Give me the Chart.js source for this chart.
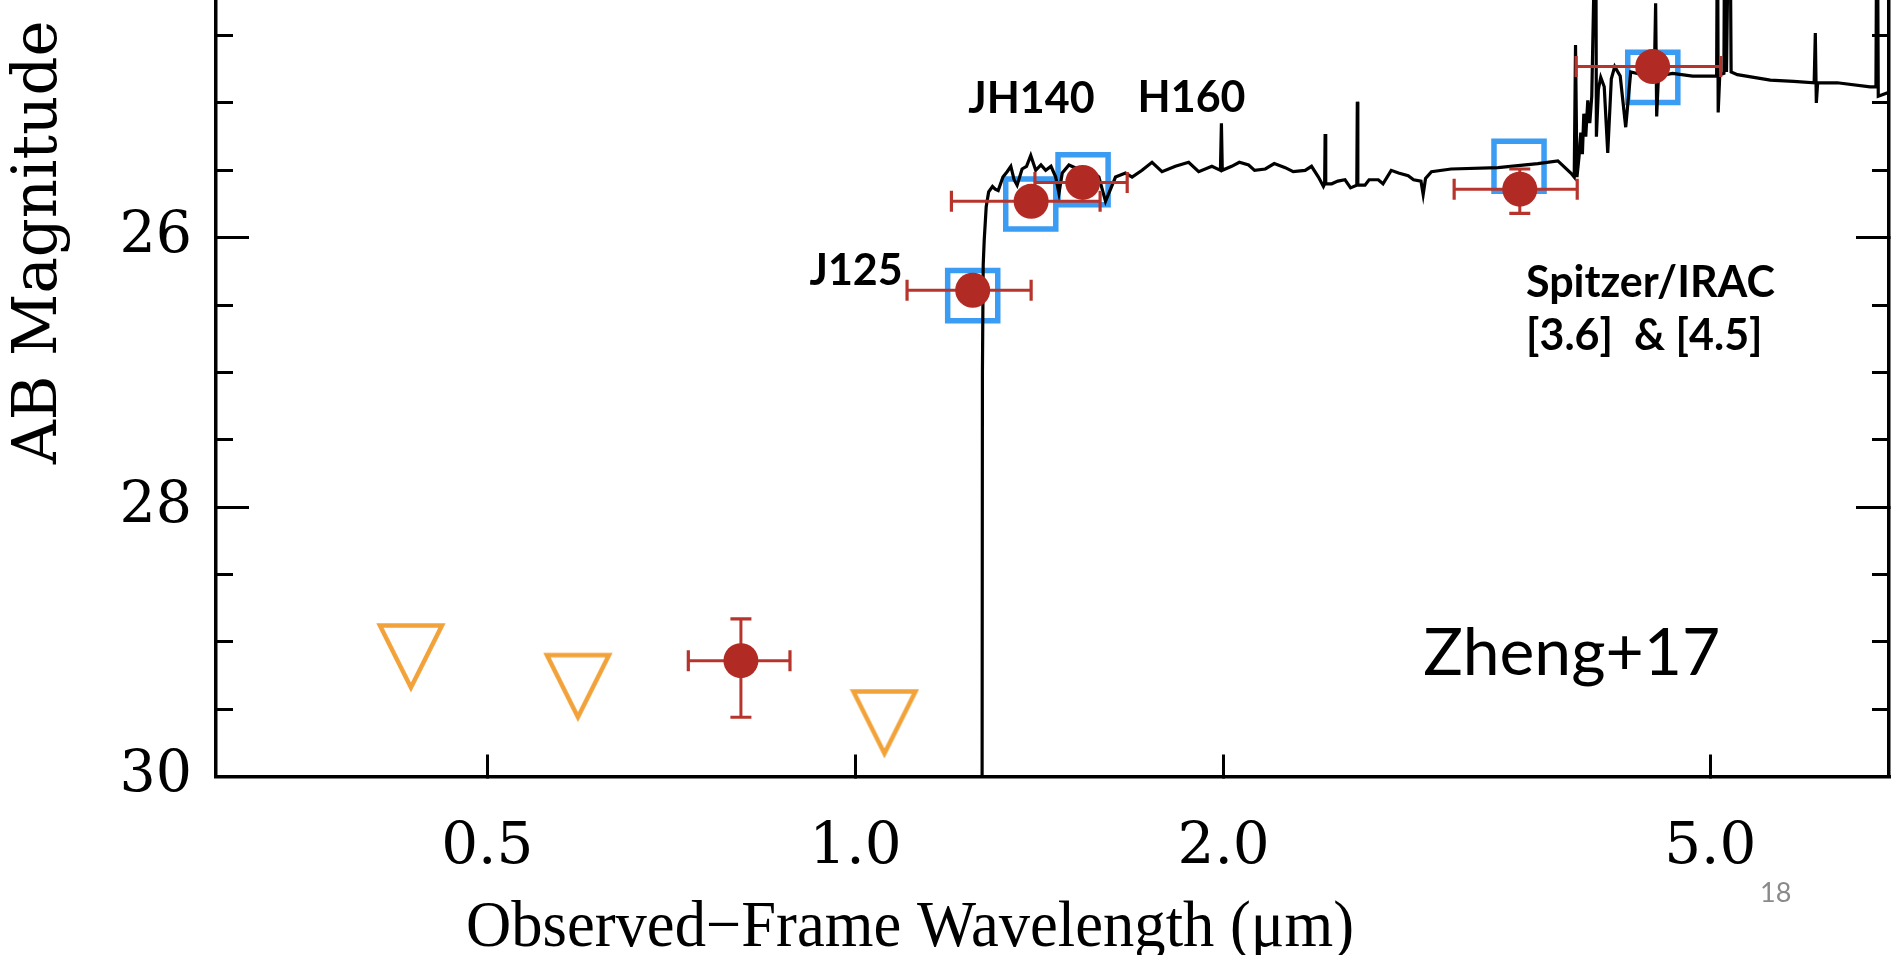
<!DOCTYPE html>
<html><head><meta charset="utf-8">
<script src="https://cdn.jsdelivr.net/npm/chart.js@4.4.1/dist/chart.umd.min.js"></script>
<style>
html,body{margin:0;padding:0;background:#fff;overflow:hidden;width:1899px;height:955px;}
#wrap{position:absolute;left:0;top:-320px;width:1899px;height:1275px;}
canvas{display:block;}
</style></head><body>
<div id="wrap"><canvas id="c" width="1899" height="1275"></canvas></div>
<script>
// ---------------- data ----------------
// detections (red points with error bars)
const detWave      = [0.806, 1.247, 1.392, 1.534, 3.493, 4.486];
const detMag       = [29.14, 26.39, 25.73, 25.59, 25.64, 24.73];
const detWaveLo    = [0.730, 1.102, 1.198, 1.402, 3.087, 3.884];
const detWaveHi    = [0.884, 1.392, 1.585, 1.668, 3.892, 5.099];
const detMagBright = [28.83, null, null, null, 25.49, null];
const detMagFaint  = [29.56, null, null, null, 25.82, null];
// upper limits (orange triangles)
const limWave = [0.433, 0.593, 1.056];
const limMag  = [29.12, 29.34, 29.61];
// model photometry (blue squares)
const modelWave = [1.247, 1.391, 1.535, 3.488, 4.487];
const modelMag  = [26.43, 25.75, 25.57, 25.47, 24.81];
// best-fit model spectrum
const specWave = [
  1.2690,1.2700,1.2719,1.2743,1.2791,1.2850,1.2943,1.3010,1.3083,1.3200,
  1.3305,1.3398,1.3481,1.3557,1.3685,1.3800,1.3910,1.4041,1.4180,1.4307,
  1.4450,1.4579,1.4669,1.4760,1.4947,1.5200,1.5423,1.5600,1.5813,1.6013,
  1.6316,1.6626,1.6834,1.7153,1.7478,1.7809,1.8263,1.8726,1.9083,1.9564,
  1.9880,1.9917,1.9950,2.0306,2.0600,2.0965,2.1200,2.1633,2.2000,2.2460,
  2.2800,2.3319,2.3600,2.3909,2.4134,2.4190,2.4212,2.4240,2.4512,2.4800,
  2.5136,2.5400,2.5700,2.5724,2.5750,2.6100,2.6300,2.6760,2.7000,2.7420,
  2.7800,2.8311,2.8600,2.9000,2.9120,2.9250,2.9579,3.0694,3.3528,3.6141,
  3.7526,3.8453,3.8700,3.8795,3.8900,3.9050,3.9182,3.9300,3.9404,3.9550,
  3.9701,3.9850,4.0000,4.0302,4.0350,4.0500,4.0683,4.0950,4.1221,4.1500,
  4.1767,4.2200,4.2640,4.3042,4.4022,4.5000,4.5111,4.5200,4.5350,4.6574,
  4.8358,5.0600,5.0680,5.0750,5.0900,5.1300,5.1400,5.1550,5.1850,5.2000,
  5.2620,5.5980,5.8500,6.0800,6.0932,6.1050,6.1200,6.3505,6.7552,6.8300,
  6.8446,6.8600,7.2000];
const specMag = [
  31.00,27.00,26.20,26.02,25.77,25.66,25.62,25.64,25.65,25.55,
  25.51,25.47,25.57,25.61,25.49,25.47,25.39,25.50,25.46,25.50,
  25.47,25.55,25.67,25.52,25.46,25.49,25.48,25.51,25.55,25.73,
  25.55,25.52,25.55,25.50,25.44,25.51,25.47,25.44,25.51,25.47,
  25.50,25.15,25.50,25.47,25.44,25.46,25.50,25.49,25.45,25.48,
  25.51,25.50,25.47,25.55,25.62,25.60,25.23,25.60,25.60,25.58,
  25.57,25.63,25.61,24.99,25.61,25.61,25.57,25.57,25.60,25.50,
  25.52,25.54,25.57,25.58,25.68,25.56,25.51,25.49,25.48,25.45,
  25.43,25.52,25.55,24.57,25.55,25.40,25.22,25.38,25.08,25.25,
  24.98,25.15,24.95,23.40,25.25,24.90,24.81,24.88,25.37,24.82,
  24.73,24.80,25.18,24.77,24.79,24.79,24.26,25.10,24.80,24.78,
  24.80,24.80,23.40,25.07,24.79,24.78,23.00,24.77,23.00,24.77,
  24.79,24.83,24.84,24.85,24.48,25.00,24.85,24.85,24.88,24.88,
  23.00,24.95,24.88];
// axes
const xRange = [0.3, 7];
const xTickValues = [0.5, 1, 2, 5];
const yRange = [22.07, 30];
const yMajorStep = 2;
const yMinorStep = 0.5;
// text
const yTitle = 'AB Magnitude';
const xTitle = 'Observed\u2212Frame Wavelength (\u03bcm)';
const noteText = ['J125', 'JH140', 'H160', 'Spitzer/IRAC', '[3.6]  & [4.5]', 'Zheng+17'];
const noteWave = [0.917, 1.2365, 1.701, 3.534, 3.534, 2.912];
const noteMag  = [26.353, 25.078, 25.066, 26.44, 26.835, 29.248];
const pageNumber = '18';

// ---------------- styles ----------------
const OFFSET = 320;
const RED = '#b12a24', RED_BAR = '#b7342d', BLUE = '#3a9cf2', ORANGE = '#f2a23a';
const noteFont = ['bold 43px Lato','bold 43px Lato','bold 43px Lato','bold 43px Lato','bold 43px Lato','66px Lato'];

function serifFont(size) { return {family: 'DejaVu Serif', size: size, lineHeight: 1}; }

function downTriangle() {
  const c = document.createElement('canvas');
  c.width = 70; c.height = 72;
  const g = c.getContext('2d');
  g.strokeStyle = ORANGE; g.lineWidth = 4.5; g.lineJoin = 'miter';
  g.beginPath(); g.moveTo(4, 3.5); g.lineTo(66, 3.5); g.lineTo(35, 65.5); g.closePath(); g.stroke();
  return c;
}

const datasets = [];
datasets.push({
  label: 'model', data: modelWave.map((w, i) => ({x: w, y: modelMag[i]})),
  showLine: false, pointStyle: 'rect', pointRadius: 35.4, pointBorderWidth: 5.5,
  pointBorderColor: BLUE, pointBackgroundColor: 'rgba(0,0,0,0)', order: 5
});
datasets.push({
  label: 'spectrum', data: specWave.map((w, i) => ({x: w, y: specMag[i]})),
  showLine: true, borderColor: '#000', borderWidth: 3.2, pointRadius: 0, tension: 0, order: 4
});
datasets.push({
  label: 'limits', data: limWave.map((w, i) => ({x: w, y: limMag[i]})),
  showLine: false, pointStyle: downTriangle(), pointRadius: 10, order: 3
});
detWave.forEach((w, i) => {
  datasets.push({
    label: 'xerr' + i, data: [{x: detWaveLo[i], y: detMag[i]}, {x: detWaveHi[i], y: detMag[i]}],
    showLine: true, borderColor: RED_BAR, borderWidth: 3, pointStyle: 'line', pointRotation: 90,
    pointRadius: 10.5, pointBorderWidth: 3.2, pointBorderColor: RED_BAR, order: 2
  });
  if (detMagBright[i] !== null) {
    datasets.push({
      label: 'yerr' + i, data: [{x: w, y: detMagBright[i]}, {x: w, y: detMagFaint[i]}],
      showLine: true, borderColor: RED_BAR, borderWidth: 3, pointStyle: 'line', pointRotation: 0,
      pointRadius: 10.5, pointBorderWidth: 3.2, pointBorderColor: RED_BAR, order: 2
    });
  }
});
datasets.push({
  label: 'detections', data: detWave.map((w, i) => ({x: w, y: detMag[i]})),
  showLine: false, pointStyle: 'circle', pointRadius: 17.5, pointBorderWidth: 0,
  pointBackgroundColor: RED, order: 1
});

function noPad(s) { s.paddingTop = 0; s.paddingBottom = 0; s.paddingLeft = 0; s.paddingRight = 0; }

function yAxis(position, step, tickLen, opts) {
  return Object.assign({
    type: 'linear', axis: 'y', position, reverse: true, min: yRange[0], max: yRange[1],
    ticks: {stepSize: step, display: false},
    grid: {drawOnChartArea: false, drawTicks: true, tickLength: tickLen, tickWidth: 3, tickColor: '#000', color: '#000', lineWidth: 3},
    border: {display: true, color: '#000', width: 3.5},
    afterFit: s => { s.width = 0; noPad(s); }
  }, opts);
}

const notesPlugin = {
  id: 'notes',
  afterDatasetsDraw(chart) {
    const {ctx} = chart;
    const xs = chart.scales.x, ys = chart.scales.y;
    ctx.save();
    ctx.fillStyle = '#000';
    ctx.textAlign = 'left';
    ctx.textBaseline = 'alphabetic';
    noteText.forEach((t, i) => {
      ctx.font = noteFont[i];
      ctx.fillText(t, xs.getPixelForValue(noteWave[i]), ys.getPixelForValue(noteMag[i]));
    });
    // x-axis title
    ctx.font = '65px "Liberation Serif"';
    const w = ctx.measureText(xTitle).width;
    ctx.save();
    ctx.translate(910, 946 + OFFSET);
    ctx.scale(888 / w, 1);
    ctx.textAlign = 'center';
    ctx.fillText(xTitle, 0, 0);
    ctx.restore();
    // slide number
    ctx.font = '27px Lato';
    ctx.fillStyle = '#8a8a8a';
    ctx.textAlign = 'left';
    ctx.fillText(pageNumber, 1760, 902 + OFFSET);
    ctx.restore();
  }
};

new Chart(document.getElementById('c'), {
  type: 'scatter',
  data: {datasets},
  plugins: [notesPlugin],
  options: {
    responsive: false, animation: false, devicePixelRatio: 1, events: [],
    layout: {autoPadding: false, padding: {top: 28.3, right: 10, bottom: 0, left: 0}},
    plugins: {legend: {display: false}, tooltip: {enabled: false}},
    scales: {
      x: {
        type: 'logarithmic', position: 'bottom', min: xRange[0], max: xRange[1],
        afterBuildTicks: s => { s.ticks = xTickValues.map(v => ({value: v})); },
        afterFit: s => { s.height = 178.5; noPad(s); },
        ticks: {
          callback: v => Number(v).toFixed(1), autoSkip: false, maxRotation: 0, minRotation: 0,
          color: '#000', font: serifFont(58), padding: 64
        },
        grid: {drawOnChartArea: false, drawTicks: true, tickLength: -22, tickWidth: 3, tickColor: '#000', color: '#000', lineWidth: 3},
        border: {display: true, color: '#000', width: 3.5}
      },
      y: yAxis('left', yMajorStep, -33, {
        weight: 1,
        ticks: {stepSize: yMajorStep, display: true, color: '#000', font: serifFont(57), padding: 57,
                callback: v => (v >= 25.9 ? String(v) : null)},
        title: {display: true, text: yTitle, color: '#000', font: serifFont(61), padding: {top: 10, bottom: 0}},
        afterFit: s => { s.width = 216; noPad(s); }
      }),
      yMinL: yAxis('left', yMinorStep, -17, {weight: 0, border: {display: false}}),
      yMajR: yAxis('right', yMajorStep, -33, {weight: 0}),
      yMinR: yAxis('right', yMinorStep, -17, {weight: 1, border: {display: false}})
    }
  }
});
</script>
</body></html>
